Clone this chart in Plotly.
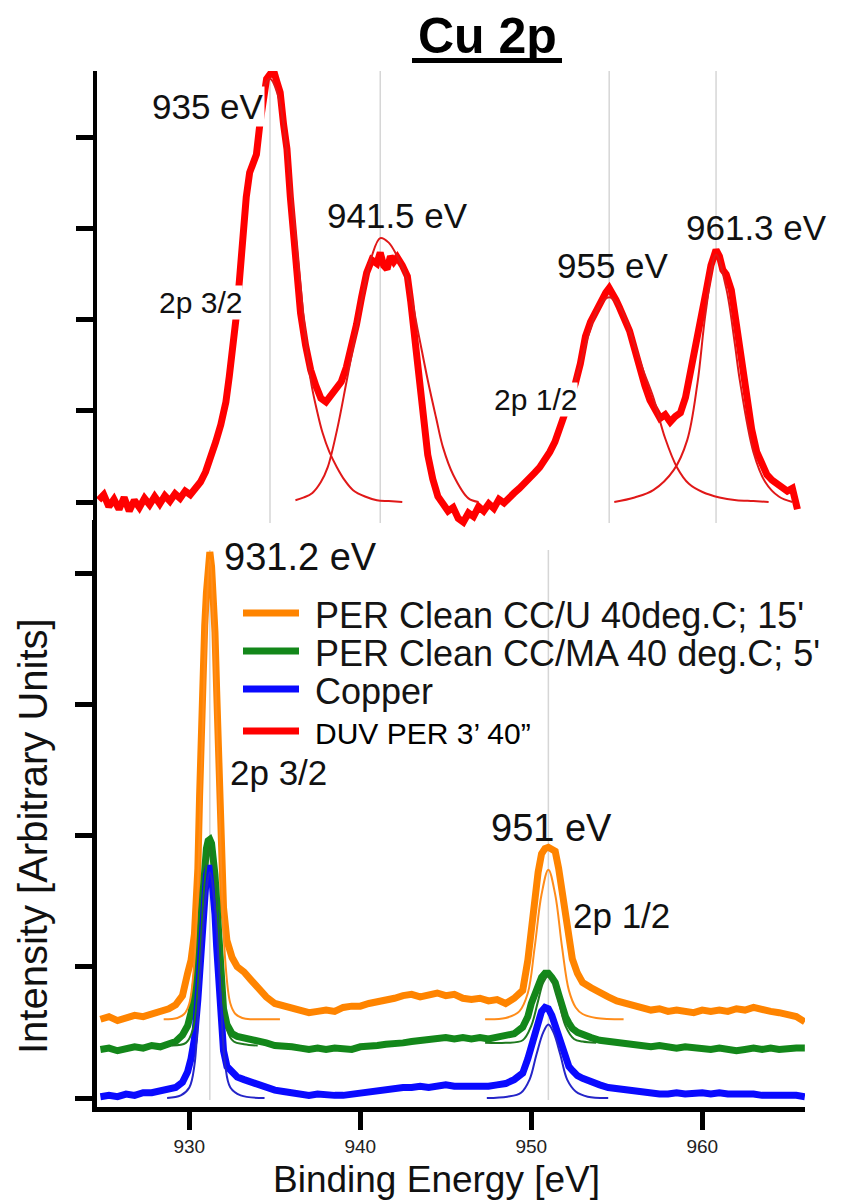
import plotly.graph_objects as go

# ---------------- data ----------------
# Upper panel: DUV PER 3' 40" spectrum (binding energy in eV, intensity in a.u.)
duv_energy = [924.9, 925.2, 925.5, 925.8, 926.1, 926.4, 926.7, 927.0, 927.3, 927.6,
              927.9, 928.2, 928.5, 928.8, 929.1, 929.4, 929.7, 930.0, 930.3, 930.6,
              930.9, 931.2, 931.5, 931.8, 932.1, 932.4, 932.6, 932.8, 933.0, 933.2,
              933.4, 933.6, 933.8, 934.0, 934.2, 934.4, 934.6, 934.8, 935.0, 935.2,
              935.4, 935.6, 935.8, 936.0, 936.2, 936.5, 936.8, 937.1, 937.4, 937.7,
              938.0, 938.3, 938.6, 938.9, 939.2, 939.5, 939.8, 940.1, 940.4, 940.7,
              941.0, 941.3, 941.5, 941.7, 941.9, 942.1, 942.3, 942.5, 942.8, 943.1,
              943.3, 943.5, 943.7, 943.9, 944.1, 944.3, 944.6, 944.9, 945.2, 945.5,
              945.8, 946.1, 946.4, 946.7, 947.0, 947.3, 947.6, 947.9, 948.2, 948.5,
              948.8, 949.1, 949.4, 949.7, 950.0, 950.3, 950.6, 950.9, 951.2, 951.5,
              951.8, 952.1, 952.4, 952.7, 953.0, 953.3, 953.6, 953.9, 954.2, 954.5,
              954.8, 955.0, 955.2, 955.4, 955.6, 955.9, 956.2, 956.5, 956.8, 957.1,
              957.4, 957.7, 958.0, 958.3, 958.6, 958.9, 959.2, 959.5, 959.8, 960.1,
              960.4, 960.7, 961.0, 961.3, 961.5, 961.7, 961.9, 962.2, 962.5, 962.8,
              963.1, 963.4, 963.7, 964.0, 964.3, 964.6, 964.9, 965.2, 965.5, 965.8,
              966.1]
duv_counts = [0.02, 0.08, -0.05, 0.03, -0.08, 0.05, -0.10, 0.02, -0.06, 0.04,
              -0.03, 0.06, -0.02, 0.07, 0.01, 0.09, 0.04, 0.12, 0.08, 0.15,
              0.22, 0.33, 0.48, 0.66, 0.85, 1.10, 1.38, 1.68, 2.02, 2.44,
              2.98, 3.35, 3.62, 3.70, 3.82, 4.15, 4.45, 4.65, 4.70, 4.75,
              4.62, 4.50, 4.15, 3.88, 3.35, 2.66, 2.08, 1.72, 1.45, 1.28,
              1.14, 1.10, 1.18, 1.24, 1.32, 1.48, 1.68, 1.95, 2.25, 2.52,
              2.66, 2.62, 2.74, 2.60, 2.56, 2.70, 2.64, 2.69, 2.60, 2.48,
              2.20, 1.85, 1.55, 1.20, 0.85, 0.52, 0.25, 0.06, -0.02, -0.10,
              -0.06, -0.18, -0.22, -0.12, -0.16, -0.05, -0.10, -0.02, -0.07, 0.03,
              -0.01, 0.06, 0.10, 0.15, 0.20, 0.26, 0.32, 0.38, 0.46, 0.55,
              0.66, 0.80, 0.98, 1.15, 1.30, 1.52, 1.82, 1.98, 2.10, 2.20,
              2.30, 2.35, 2.26, 2.22, 2.14, 2.02, 1.88, 1.68, 1.46, 1.28,
              1.12, 1.00, 0.92, 0.96, 0.88, 0.94, 0.98, 1.15, 1.42, 1.72,
              2.05, 2.30, 2.60, 2.77, 2.70, 2.55, 2.50, 2.33, 1.95, 1.55,
              1.12, 0.80, 0.55, 0.40, 0.30, 0.24, 0.20, 0.18, 0.12, 0.15,
              -0.08]

# Upper panel: fitted peak components
duv_fit_935_e = [934.6, 935.0, 935.5, 936.0, 936.5, 937.0, 937.4, 937.8, 938.1, 938.5,
                 938.95, 939.4, 939.9, 940.6, 941.3, 942.0, 942.8]
duv_fit_935_i = [4.55, 4.65, 4.45, 3.85, 2.95, 2.00, 1.34, 0.98, 0.76, 0.55,
                 0.38, 0.24, 0.13, 0.06, 0.02, 0.01, 0.00]
duv_fit_941_e = [936.5, 937.0, 937.5, 938.0, 938.4, 938.95, 939.5, 940.0, 940.5, 941.0,
                 941.5, 942.0, 942.5, 943.1, 943.7, 944.3, 944.8, 945.2, 945.8, 946.7, 947.3]
duv_fit_941_i = [0.02, 0.05, 0.10, 0.22, 0.38, 0.79, 1.31, 1.80, 2.30, 2.70,
                 2.90, 2.85, 2.70, 2.44, 1.90, 1.34, 0.92, 0.60, 0.30, 0.04, 0.00]
duv_fit_955_e = [952.6, 953.2, 953.8, 954.4, 955.0, 955.6, 956.0, 956.4, 957.0, 957.6,
                 958.3, 959.0, 959.7, 960.5, 961.5, 962.5, 963.5, 964.4]
duv_fit_955_i = [1.12, 1.45, 1.85, 2.15, 2.25, 2.15, 2.00, 1.78, 1.45, 1.15,
                 0.70, 0.38, 0.20, 0.11, 0.05, 0.02, 0.01, 0.00]
duv_fit_961_e = [955.3, 956.5, 957.6, 958.8, 959.6, 960.2, 960.7, 961.3, 961.9, 962.4,
                 962.7, 963.5, 964.2, 965.0, 965.8]
duv_fit_961_i = [0.00, 0.05, 0.13, 0.35, 0.68, 1.30, 2.10, 2.72, 2.35, 1.75,
                 1.34, 0.55, 0.22, 0.06, 0.00]

# Lower panel: common energy grid for the three cleaned/reference samples
energy = [924.8, 925.3, 925.8, 926.3, 926.8, 927.3, 927.8, 928.3, 928.8, 929.2, 929.6,
          929.9, 930.1, 930.3, 930.5, 930.6, 930.7, 930.8, 930.9, 931.0, 931.1, 931.2,
          931.3, 931.4, 931.5, 931.6, 931.7, 931.8, 931.9, 932.0, 932.2, 932.5, 932.8,
          933.2, 933.6, 934.0, 934.5, 935.0, 935.5, 936.0, 936.5, 937.0, 937.5, 938.0,
          938.5, 939.0, 939.5, 940.0, 940.5, 941.0, 941.5, 942.0, 942.5, 943.0, 943.5,
          944.0, 944.5, 945.0, 945.5, 946.0, 946.5, 947.0, 947.5, 948.0, 948.5, 949.0,
          949.5, 949.8, 950.0, 950.2, 950.4, 950.6, 950.8, 951.0, 951.2, 951.4, 951.6,
          951.8, 952.0, 952.2, 952.4, 952.7, 953.0,
          953.5, 954.0, 954.5, 955.0, 955.5, 956.0, 956.5, 957.0, 957.5, 958.0, 958.5,
          959.0, 959.5, 960.0, 960.5, 961.0, 961.5, 962.0, 962.5, 963.0, 963.5, 964.0,
          964.5, 965.0, 965.5, 966.0]
per_u = [0.60, 0.62, 0.59, 0.61, 0.63, 0.62, 0.64, 0.65, 0.68, 0.71, 0.78,
         0.95, 1.05, 1.25, 1.75, 2.30, 2.90, 3.30, 3.60, 3.85, 4.05, 4.16,
         4.05, 3.85, 3.55, 3.10, 2.60, 2.10, 1.70, 1.45, 1.20, 1.07, 1.00,
         0.96, 0.90, 0.84, 0.77, 0.72, 0.70, 0.68, 0.67, 0.65, 0.66, 0.67,
         0.66, 0.69, 0.70, 0.70, 0.72, 0.73, 0.75, 0.76, 0.78, 0.79, 0.77,
         0.79, 0.80, 0.78, 0.79, 0.76, 0.75, 0.76, 0.74, 0.75, 0.72, 0.76,
         0.82, 1.05, 1.30, 1.55, 1.72, 1.86, 1.90, 1.91, 1.90, 1.88, 1.75,
         1.56, 1.38, 1.20, 1.06, 0.95, 0.88,
         0.84, 0.80, 0.77, 0.74, 0.72, 0.70, 0.69, 0.67, 0.68, 0.66, 0.67,
         0.66, 0.65, 0.67, 0.66, 0.67, 0.66, 0.68, 0.67, 0.69, 0.67, 0.66,
         0.65, 0.63, 0.62, 0.58]
per_ma = [0.37, 0.38, 0.36, 0.38, 0.39, 0.38, 0.40, 0.39, 0.41, 0.43, 0.48,
          0.55, 0.65, 0.80, 1.05, 1.25, 1.45, 1.65, 1.80, 1.90, 1.96, 1.97,
          1.94, 1.85, 1.70, 1.50, 1.25, 1.00, 0.80, 0.68, 0.56, 0.49, 0.47,
          0.46, 0.45, 0.44, 0.42, 0.40, 0.40, 0.39, 0.38, 0.37, 0.38, 0.37,
          0.38, 0.38, 0.37, 0.39, 0.39, 0.40, 0.41, 0.41, 0.42, 0.43, 0.44,
          0.45, 0.45, 0.46, 0.45, 0.46, 0.45, 0.46, 0.45, 0.46, 0.47, 0.49,
          0.54, 0.62, 0.72, 0.80, 0.87, 0.92, 0.95, 0.95, 0.92, 0.88, 0.79,
          0.70, 0.62, 0.57, 0.53, 0.50, 0.48,
          0.46, 0.44, 0.43, 0.42, 0.41, 0.40, 0.40, 0.39, 0.40, 0.39, 0.38,
          0.39, 0.38, 0.38, 0.37, 0.38, 0.37, 0.36, 0.37, 0.38, 0.37, 0.38,
          0.37, 0.38, 0.38, 0.38]
copper = [0.01, 0.02, 0.01, 0.03, 0.02, 0.04, 0.04, 0.05, 0.06, 0.08, 0.12,
          0.20, 0.30, 0.45, 0.75, 0.98, 1.20, 1.42, 1.60, 1.70, 1.75, 1.75,
          1.70, 1.58, 1.40, 1.15, 0.90, 0.65, 0.48, 0.36, 0.24, 0.19, 0.16,
          0.14, 0.12, 0.10, 0.08, 0.06, 0.05, 0.04, 0.03, 0.02, 0.03, 0.02,
          0.02, 0.02, 0.03, 0.04, 0.04, 0.05, 0.06, 0.07, 0.08, 0.08, 0.09,
          0.08, 0.09, 0.10, 0.09, 0.09, 0.08, 0.09, 0.09, 0.10, 0.11, 0.14,
          0.19, 0.30, 0.40, 0.50, 0.60, 0.66, 0.69, 0.68, 0.63, 0.55, 0.45,
          0.36, 0.29, 0.24, 0.21, 0.17, 0.15,
          0.12, 0.10, 0.08, 0.07, 0.06, 0.05, 0.04, 0.04, 0.03, 0.03, 0.04,
          0.03, 0.04, 0.04, 0.03, 0.04, 0.03, 0.03, 0.04, 0.03, 0.02, 0.02,
          0.03, 0.02, 0.02, 0.01]

# Lower panel: fitted components (2p 3/2 and 2p 1/2) for each sample
per_u_fit1_e = [928.5, 929.3, 929.7, 930.0, 930.3, 930.6, 930.9, 931.2, 931.5, 931.8,
                932.1, 932.4, 932.7, 933.1, 933.6, 934.4, 935.3]
per_u_fit1_i = [0.60, 0.61, 0.64, 0.72, 1.05, 2.00, 3.30, 4.10, 3.30, 2.00,
                1.05, 0.72, 0.64, 0.61, 0.60, 0.60, 0.60]
per_u_fit2_e = [947.3, 948.5, 949.3, 949.8, 950.2, 950.6, 951.0, 951.4, 951.8, 952.2,
                952.6, 953.0, 953.8, 955.4]
per_u_fit2_i = [0.60, 0.61, 0.66, 0.80, 1.15, 1.55, 1.74, 1.55, 1.15, 0.82,
                0.69, 0.64, 0.61, 0.60]
per_ma_fit1_e = [929.0, 929.8, 930.2, 930.6, 930.9, 931.2, 931.5, 931.8, 932.2, 932.6,
                 933.2, 934.0]
per_ma_fit1_i = [0.40, 0.42, 0.52, 1.05, 1.65, 1.92, 1.65, 1.05, 0.52, 0.43,
                 0.41, 0.40]
per_ma_fit2_e = [947.3, 948.5, 949.5, 950.0, 950.4, 950.7, 951.0, 951.3, 951.6, 952.0,
                 952.5, 953.0, 953.8]
per_ma_fit2_i = [0.42, 0.42, 0.44, 0.55, 0.74, 0.88, 0.93, 0.88, 0.74, 0.55,
                 0.45, 0.43, 0.42]
copper_fit1_e = [928.7, 929.5, 930.0, 930.3, 930.6, 930.9, 931.2, 931.5, 931.8, 932.1,
                 932.4, 933.0, 934.4]
copper_fit1_i = [0.00, 0.02, 0.08, 0.25, 0.85, 1.45, 1.72, 1.45, 0.85, 0.25,
                 0.08, 0.02, 0.00]
copper_fit2_e = [947.4, 948.6, 949.4, 949.9, 950.3, 950.7, 951.0, 951.3, 951.7, 952.1,
                 952.6, 953.3, 954.5]
copper_fit2_i = [0.00, 0.01, 0.04, 0.14, 0.33, 0.50, 0.56, 0.50, 0.33, 0.14,
                 0.05, 0.01, 0.00]

# Peak positions marked with guide lines
duv_peaks = [935.0, 941.5, 955.0, 961.3]
clean_peaks = [931.2, 951.0]
energy_ticks = [930, 940, 950, 960]
intensity_ticks = [0, 1, 2, 3, 4]

series_names = ["PER Clean CC/U 40deg.C; 15'", "PER Clean CC/MA 40 deg.C; 5'",
                "Copper", "DUV PER 3\u2019 40\u201d"]

# ---------------- styling ----------------
W, H = 860, 1200
FONT = "Liberation Sans, Arial, Helvetica, sans-serif"
INK = "#111111"
RED, ORANGE, GREEN, BLUE = "#ff0000", "#ff8400", "#13871a", "#0a0aff"
RED_FIT, ORANGE_FIT, GREEN_FIT, BLUE_FIT = "#e01818", "#ff8c1a", "#1f7a1f", "#2525c8"
GRID = "#d6d6d6"


def paper(xp, yp):
    """Pixel position on the page -> paper coordinates."""
    return xp / W, 1 - yp / H


fig = go.Figure()

# lower panel: measured spectra (thick) then fitted components (thin)
for e, v, c in [(energy, per_u, ORANGE), (energy, per_ma, GREEN), (energy, copper, BLUE)]:
    fig.add_trace(go.Scatter(x=e, y=v, mode="lines", line=dict(color=c, width=7),
                             xaxis="x", yaxis="y", showlegend=False, hoverinfo="skip"))
for e, v, c in [(per_u_fit1_e, per_u_fit1_i, ORANGE_FIT), (per_u_fit2_e, per_u_fit2_i, ORANGE_FIT),
                (per_ma_fit1_e, per_ma_fit1_i, GREEN_FIT), (per_ma_fit2_e, per_ma_fit2_i, GREEN_FIT),
                (copper_fit1_e, copper_fit1_i, BLUE_FIT), (copper_fit2_e, copper_fit2_i, BLUE_FIT)]:
    fig.add_trace(go.Scatter(x=e, y=v, mode="lines", line=dict(color=c, width=2, shape="spline"),
                             xaxis="x", yaxis="y", showlegend=False, hoverinfo="skip"))

# upper panel: DUV PER spectrum and its components
fig.add_trace(go.Scatter(x=duv_energy, y=duv_counts, mode="lines", line=dict(color=RED, width=7),
                         xaxis="x2", yaxis="y2", showlegend=False, hoverinfo="skip"))
for e, v in [(duv_fit_935_e, duv_fit_935_i), (duv_fit_941_e, duv_fit_941_i),
             (duv_fit_955_e, duv_fit_955_i), (duv_fit_961_e, duv_fit_961_i)]:
    fig.add_trace(go.Scatter(x=e, y=v, mode="lines", line=dict(color=RED_FIT, width=2, shape="spline"),
                             xaxis="x2", yaxis="y2", showlegend=False, hoverinfo="skip"))

x_dom = [97 / W, 805 / W]
fig.update_layout(
    width=W, height=H,
    margin=dict(l=0, r=0, t=0, b=0),
    paper_bgcolor="white", plot_bgcolor="rgba(0,0,0,0)",
    font=dict(family=FONT, color=INK),
    showlegend=False,
    xaxis=dict(domain=x_dom, range=[924.60, 966.01], anchor="y",
               showline=True, linecolor="black", linewidth=5, mirror=False,
               ticks="outside", ticklen=18, tickwidth=5, tickcolor="black",
               tickmode="array", tickvals=energy_ticks,
               tickfont=dict(size=19, color="#222222", family=FONT), ticklabelstandoff=0,
               showgrid=False, zeroline=False, automargin=False),
    yaxis=dict(domain=[1 - 1107 / H, 1 - 520 / H], range=[-0.0686, 4.404], anchor="x",
               showline=True, linecolor="black", linewidth=5,
               ticks="outside", ticklen=17, tickwidth=5, tickcolor="black",
               tickmode="array", tickvals=intensity_ticks, showticklabels=False,
               showgrid=False, zeroline=False, automargin=False),
    xaxis2=dict(domain=x_dom, range=[924.80, 966.545], anchor="y2", visible=False),
    yaxis2=dict(domain=[1 - 530 / H, 1 - 71 / H], range=[-0.3077, 4.736], anchor="x2",
                showline=True, linecolor="black", linewidth=4,
                ticks="outside", ticklen=17, tickwidth=5, tickcolor="black",
                tickmode="array", tickvals=intensity_ticks, showticklabels=False,
                showgrid=False, zeroline=False, automargin=False),
)

shapes = []
# guide lines at the labelled peak energies
for e in duv_peaks:
    shapes.append(dict(type="line", xref="x2", yref="y2 domain", x0=e, x1=e, y0=0.015, y1=1,
                       line=dict(color=GRID, width=1.5), layer="below"))
for e in clean_peaks:
    shapes.append(dict(type="line", xref="x", yref="y", x0=e, x1=e, y0=-0.015, y1=4.175,
                       line=dict(color=GRID, width=1.5), layer="below"))

# title underline
ux0, uy = paper(412, 60.5)
ux1, _ = paper(562, 60.5)
shapes.append(dict(type="line", xref="paper", yref="paper", x0=ux0, x1=ux1, y0=uy, y1=uy,
                   line=dict(color="black", width=5)))

# legend keys
legend_rows = [(613, ORANGE), (651, GREEN), (689, BLUE), (731, RED)]
for (yp, c) in legend_rows:
    lx0, ly = paper(243, yp)
    lx1, _ = paper(299, yp)
    shapes.append(dict(type="line", xref="paper", yref="paper", x0=lx0, x1=lx1, y0=ly, y1=ly,
                       line=dict(color=c, width=7)))
fig.update_layout(shapes=shapes)

annotations = []


def label(text, xp, yp, size, anchor="center", bg=None, color=INK, angle=0):
    x, y = paper(xp, yp)
    a = dict(text=text, x=x, y=y, xref="paper", yref="paper", showarrow=False,
             xanchor=anchor, yanchor="middle", textangle=angle,
             font=dict(size=size, color=color, family=FONT))
    if bg:
        a.update(bgcolor=bg, borderpad=0)
    annotations.append(a)


label("<b>Cu 2p</b>", 488, 36, 50, color="black")

# upper panel peak labels
label(f"{duv_peaks[0]:g} eV", 208, 106, 35, bg="white")
label(f"{duv_peaks[1]:g} eV", 397, 216, 35)
label(f"{duv_peaks[2]:g} eV", 613, 265, 35)
label(f"{duv_peaks[3]:g} eV", 756, 228, 35)
label("2p 3/2", 200, 302, 30, bg="white")
label("2p 1/2", 535, 399, 30, bg="white")

# lower panel peak labels
label(f"{clean_peaks[0]:g} eV", 300, 557, 38)
label(f"{clean_peaks[1]:g} eV", 551, 828, 38)
label("2p 3/2", 278, 772, 35)
label("2p 1/2", 621, 915, 35)

# legend text
for (yp, _), name, size in zip(legend_rows, series_names, [36, 36, 36, 30]):
    label(name, 313, yp + 2, size, anchor="left", color="#141414" if size == 36 else "black")

# axis titles
label("Binding Energy [eV]", 437, 1179, 37)
label("Intensity [Arbitrary Units]", 33, 836, 40, angle=-90)

fig.update_layout(annotations=annotations)

fig.write_html("out.html")
